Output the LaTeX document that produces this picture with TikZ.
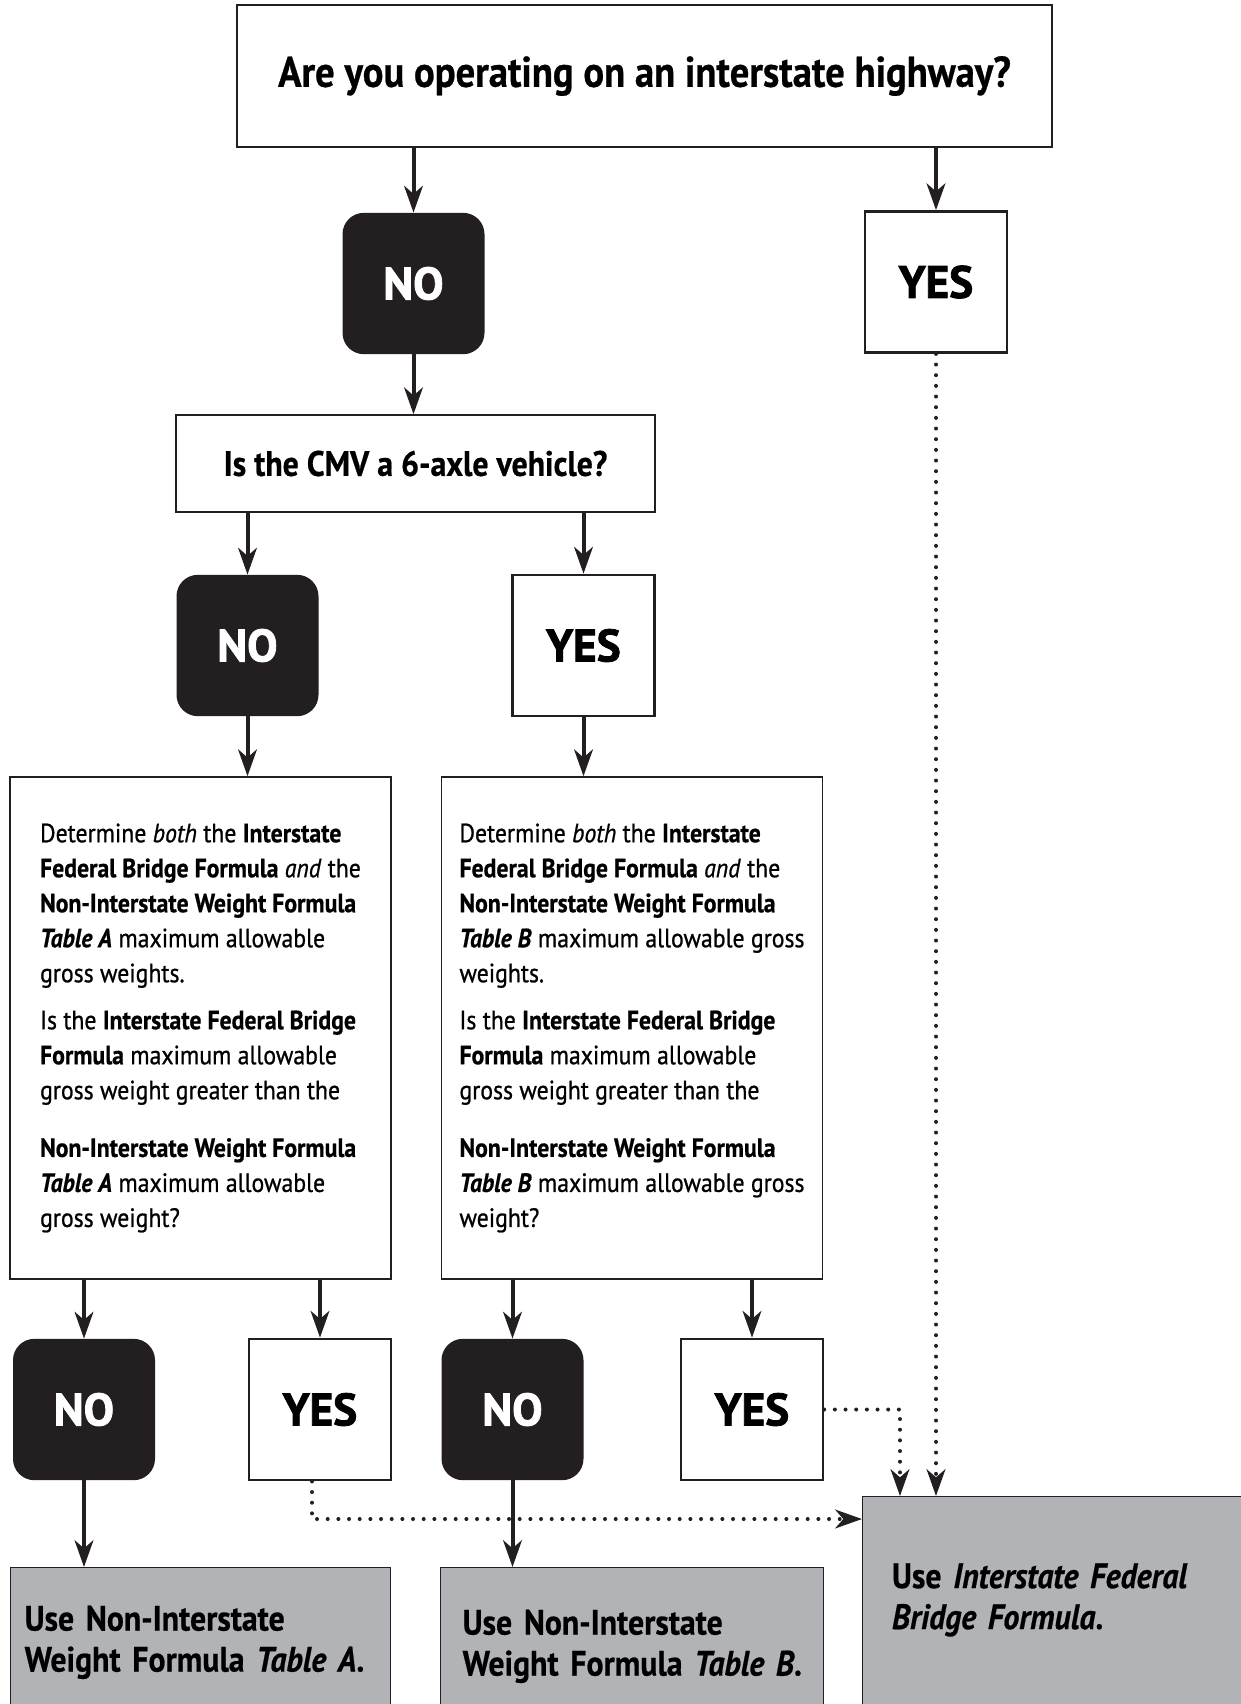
\documentclass[tikz,border=0pt]{standalone}
\usepackage{fontspec}
\setmainfont{PT Sans}[FakeStretch=0.9,
  UprightFeatures={FakeBold=0.8}, ItalicFeatures={FakeBold=0.8},
  BoldFeatures={FakeBold=0.6}, BoldItalicFeatures={FakeBold=0.6}]
\newfontfamily\answerfont{PT Sans}[BoldFeatures={FakeBold=1.8}]
\usepackage{tikz}
\usetikzlibrary{arrows.meta,positioning,calc}
\definecolor{nofill}{HTML}{231F20}
\definecolor{resgray}{HTML}{B1B3B6}
\tikzset{
  qbox/.style={rectangle, draw=nofill, line width=1.2pt, fill=white, align=center, inner sep=0pt},
  topq/.style={qbox, minimum width=611.25pt, minimum height=106.5pt,
               font=\fontsize{32.2}{36}\selectfont\bfseries},
  axlebox/.style={qbox, minimum width=359.25pt, minimum height=72.75pt,
                  font=\fontsize{26.5}{32}\selectfont\bfseries},
  detbox/.style={qbox, align=left, minimum width=286pt, minimum height=376.5pt,
                 font=\fontsize{19.8}{26.25}\selectfont},
  ansbox/.style={rectangle, minimum width=106.5pt, minimum height=106pt, inner sep=0pt,
                 font=\answerfont\bfseries\fontsize{34}{40}\selectfont},
  nobox/.style={ansbox, rounded corners=16pt, fill=nofill, text=white},
  yesbox/.style={ansbox, draw=nofill, line width=1.8pt, fill=white},
  resbox/.style={rectangle, draw=nofill, line width=1pt, fill=resgray, align=left,
                 anchor=north west, text depth=100pt,
                 font=\fontsize{26.5}{30.75}\selectfont\bfseries},
  flowarr/.style={-{Stealth[length=20pt, width=14pt, inset=6pt]}, line width=3pt, draw=nofill},
  dotarr/.style={flowarr, line cap=round, dash pattern=on 0pt off 8pt},
}
\begin{document}
\begin{tikzpicture}[x=0.75pt, y=-0.75pt]
    \useasboundingbox (0,0) rectangle (1241,1704);
    \fill[white] (0,0) rectangle (1241,1704);
    \node[topq]    (top)  at (644.5,76)  {Are you operating on an interstate highway?};
    \node[nobox]   (no1)  at (413.5,283.5) {NO};
    \node[yesbox]  (yes1) at (936,282)   {YES};
    \node[axlebox] (axle) at (415.5,463.5) {Is the CMV a 6-axle vehicle?};
    \node[nobox]   (no2)  at (247.5,645.5) {NO};
    \node[yesbox]  (yes2) at (583.5,645.5) {YES};
    \node[detbox]  (detA) at (200.5,1028) {Determine \emph{both} the \textbf{Interstate}\\
      \textbf{Federal Bridge Formula} \emph{and} the\\
      \textbf{Non-Interstate Weight Formula}\\
      \textbf{\emph{Table A}} maximum allowable\\
      gross weights.\\[9pt]
      Is the \textbf{Interstate Federal Bridge}\\
      \textbf{Formula} maximum allowable\\
      gross weight greater than the\\[17pt]
      \textbf{Non-Interstate Weight Formula}\\
      \textbf{\emph{Table A}} maximum allowable\\
      gross weight?};
    \node[detbox]  (detB) at (632,1028) {Determine \emph{both} the \textbf{Interstate}\\
      \textbf{Federal Bridge Formula} \emph{and} the\\
      \textbf{Non-Interstate Weight Formula}\\
      \textbf{\emph{Table B}} maximum allowable gross\\
      weights.\\[9pt]
      Is the \textbf{Interstate Federal Bridge}\\
      \textbf{Formula} maximum allowable\\
      gross weight greater than the\\[17pt]
      \textbf{Non-Interstate Weight Formula}\\
      \textbf{\emph{Table B}} maximum allowable gross\\
      weight?};
    \node[nobox]   (no3)  at (84,1409.5)  {NO};
    \node[yesbox]  (yes3) at (320,1409.5) {YES};
    \node[nobox]   (no4)  at (512.5,1409.5) {NO};
    \node[yesbox]  (yes4) at (752,1409.5) {YES};
    \node[resbox, text width=264pt, inner xsep=10.5pt, inner ysep=28.5pt] (resA) at (10,1567)
      {\mbox{Use Non-Interstate}\\ \mbox{Weight Formula \emph{Table A}.}};
    \node[resbox, text width=254pt, inner xsep=16.5pt, inner ysep=31.5pt] (resB) at (440,1567)
      {\mbox{Use Non-Interstate}\\ \mbox{Weight Formula \emph{Table B}.}};
    \node[resbox, text width=246pt, inner xsep=22pt, inner ysep=50pt] (resC) at (862,1496)
      {\mbox{Use \emph{Interstate Federal}}\\ \mbox{\emph{Bridge Formula}.}};
    \draw[flowarr] (top.south -| no1.north) -- (no1.north);
    \draw[flowarr] (top.south -| yes1.north) -- (yes1.north);
    \draw[flowarr] (no1.south) -- (no1.south |- axle.north);
    \draw[flowarr] (axle.south -| no2.north) -- (no2.north);
    \draw[flowarr] (axle.south -| yes2.north) -- (yes2.north);
    \draw[flowarr] (no2.south) -- (no2.south |- detA.north);
    \draw[flowarr] (yes2.south) -- (yes2.south |- detB.north);
    \draw[flowarr] (detA.south -| no3.north) -- (no3.north);
    \draw[flowarr] (detA.south -| yes3.north) -- (yes3.north);
    \draw[flowarr] (detB.south -| no4.north) -- (no4.north);
    \draw[flowarr] (detB.south -| yes4.north) -- (yes4.north);
    \draw[flowarr] (no3.south) -- (no3.south |- resA.north);
    \draw[flowarr] (no4.south) -- (no4.south |- resB.north);
    % dotted paths into the bridge formula result
    \coordinate (yes3turn) at (312,1519);
    \coordinate (yes4turn) at (900,1409.5);
    \draw[dotarr] (yes1.south) -- (yes1.south |- resC.north);
    \draw[dotarr] (yes4.east) -- (yes4turn) -- (yes4turn |- resC.north);
    \draw[dotarr] (yes3turn |- yes3.south) -- (yes3turn) -- (yes3turn -| resC.west);
\end{tikzpicture}
\end{document}
